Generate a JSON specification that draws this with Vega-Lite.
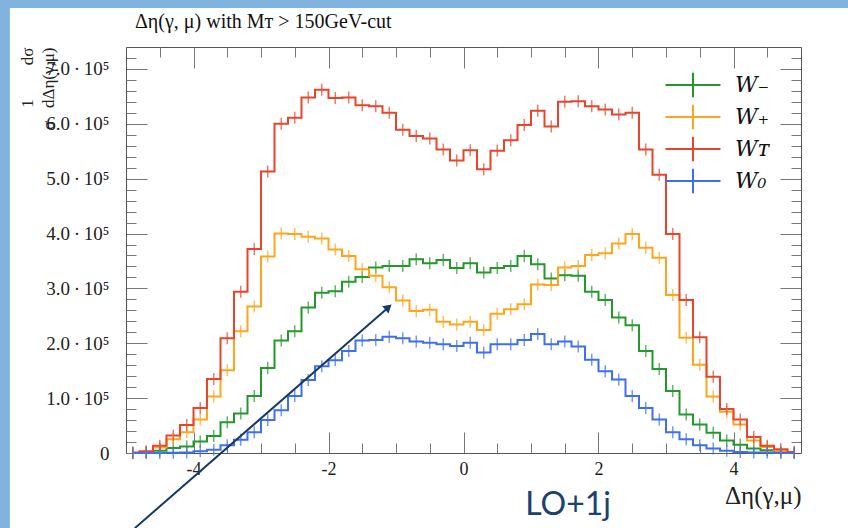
{
  "$schema": "https://vega.github.io/schema/vega-lite/v6.json",
  "width": 675,
  "height": 406,
  "autosize": {"type": "none"},
  "padding": {"left": 126, "top": 47, "right": 47, "bottom": 75},
  "background": "white",
  "title": {"text": "Δη(γ, μ) with Mᴛ > 150GeV-cut", "anchor": "start", "frame": "group", "font": "Liberation Serif", "fontSize": 20, "fontWeight": "normal", "color": "#111111", "offset": -32, "dx": 9},
  "datasets": {
    "strip": [{"x1": -7.5, "x2": -6.72, "y1": -200000, "y2": 825665}, {"x1": -7.5, "x2": 7.5, "y1": 811000, "y2": 825665}],
    "arrow": [{"x1": -4.87, "y1": -137000, "x2": -1.127, "y2": 264000}],
    "note": [{"x": 1.55, "y": -113000, "label": "LO+1j"}],
    "h": [
      {"x":-4.9,"s":"W₋","y":0},{"x":-4.7,"s":"W₋","y":1000},{"x":-4.5,"s":"W₋","y":4000},{"x":-4.3,"s":"W₋","y":9000},{"x":-4.1,"s":"W₋","y":12000},
      {"x":-3.9,"s":"W₋","y":21000},{"x":-3.7,"s":"W₋","y":31000},{"x":-3.5,"s":"W₋","y":56000},{"x":-3.3,"s":"W₋","y":72000},{"x":-3.1,"s":"W₋","y":104000},
      {"x":-2.9,"s":"W₋","y":155000},{"x":-2.7,"s":"W₋","y":205000},{"x":-2.5,"s":"W₋","y":222000},{"x":-2.3,"s":"W₋","y":265000},{"x":-2.1,"s":"W₋","y":292000},
      {"x":-1.9,"s":"W₋","y":295000},{"x":-1.7,"s":"W₋","y":312000},{"x":-1.5,"s":"W₋","y":321000},{"x":-1.3,"s":"W₋","y":338000},{"x":-1.1,"s":"W₋","y":341000},
      {"x":-0.9,"s":"W₋","y":341000},{"x":-0.7,"s":"W₋","y":353000},{"x":-0.5,"s":"W₋","y":346000},{"x":-0.3,"s":"W₋","y":352000},{"x":-0.1,"s":"W₋","y":337000},
      {"x":0.1,"s":"W₋","y":346000},{"x":0.3,"s":"W₋","y":329000},{"x":0.5,"s":"W₋","y":337000},{"x":0.7,"s":"W₋","y":341000},{"x":0.9,"s":"W₋","y":359000},
      {"x":1.1,"s":"W₋","y":344000},{"x":1.3,"s":"W₋","y":318000},{"x":1.5,"s":"W₋","y":324000},{"x":1.7,"s":"W₋","y":323000},{"x":1.9,"s":"W₋","y":294000},
      {"x":2.1,"s":"W₋","y":279000},{"x":2.3,"s":"W₋","y":247000},{"x":2.5,"s":"W₋","y":233000},{"x":2.7,"s":"W₋","y":186000},{"x":2.9,"s":"W₋","y":153000},
      {"x":3.1,"s":"W₋","y":113000},{"x":3.3,"s":"W₋","y":70000},{"x":3.5,"s":"W₋","y":52000},{"x":3.7,"s":"W₋","y":37000},{"x":3.9,"s":"W₋","y":23000},
      {"x":4.1,"s":"W₋","y":15000},{"x":4.3,"s":"W₋","y":8000},{"x":4.5,"s":"W₋","y":5000},{"x":4.7,"s":"W₋","y":2000},{"x":4.9,"s":"W₋","y":1000},

      {"x":-4.9,"s":"W₊","y":0},{"x":-4.7,"s":"W₊","y":2000},{"x":-4.5,"s":"W₊","y":10000},{"x":-4.3,"s":"W₊","y":25000},{"x":-4.1,"s":"W₊","y":38000},
      {"x":-3.9,"s":"W₊","y":61000},{"x":-3.7,"s":"W₊","y":103000},{"x":-3.5,"s":"W₊","y":151000},{"x":-3.3,"s":"W₊","y":222000},{"x":-3.1,"s":"W₊","y":267000},
      {"x":-2.9,"s":"W₊","y":358000},{"x":-2.7,"s":"W₊","y":400000},{"x":-2.5,"s":"W₊","y":399000},{"x":-2.3,"s":"W₊","y":394000},{"x":-2.1,"s":"W₊","y":391000},
      {"x":-1.9,"s":"W₊","y":371000},{"x":-1.7,"s":"W₊","y":359000},{"x":-1.5,"s":"W₊","y":335000},{"x":-1.3,"s":"W₊","y":323000},{"x":-1.1,"s":"W₊","y":302000},
      {"x":-0.9,"s":"W₊","y":278000},{"x":-0.7,"s":"W₊","y":259000},{"x":-0.5,"s":"W₊","y":261000},{"x":-0.3,"s":"W₊","y":239000},{"x":-0.1,"s":"W₊","y":234000},
      {"x":0.1,"s":"W₊","y":239000},{"x":0.3,"s":"W₊","y":224000},{"x":0.5,"s":"W₊","y":254000},{"x":0.7,"s":"W₊","y":262000},{"x":0.9,"s":"W₊","y":271000},
      {"x":1.1,"s":"W₊","y":307000},{"x":1.3,"s":"W₊","y":306000},{"x":1.5,"s":"W₊","y":338000},{"x":1.7,"s":"W₊","y":341000},{"x":1.9,"s":"W₊","y":361000},
      {"x":2.1,"s":"W₊","y":364000},{"x":2.3,"s":"W₊","y":382000},{"x":2.5,"s":"W₊","y":399000},{"x":2.7,"s":"W₊","y":374000},{"x":2.9,"s":"W₊","y":356000},
      {"x":3.1,"s":"W₊","y":288000},{"x":3.3,"s":"W₊","y":210000},{"x":3.5,"s":"W₊","y":161000},{"x":3.7,"s":"W₊","y":103000},{"x":3.9,"s":"W₊","y":75000},
      {"x":4.1,"s":"W₊","y":52000},{"x":4.3,"s":"W₊","y":23000},{"x":4.5,"s":"W₊","y":11000},{"x":4.7,"s":"W₊","y":4000},{"x":4.9,"s":"W₊","y":1000},

      {"x":-4.9,"s":"Wᴛ","y":1000},{"x":-4.7,"s":"Wᴛ","y":3000},{"x":-4.5,"s":"Wᴛ","y":13000},{"x":-4.3,"s":"Wᴛ","y":32000},{"x":-4.1,"s":"Wᴛ","y":51000},
      {"x":-3.9,"s":"Wᴛ","y":82000},{"x":-3.7,"s":"Wᴛ","y":135000},{"x":-3.5,"s":"Wᴛ","y":209000},{"x":-3.3,"s":"Wᴛ","y":294000},{"x":-3.1,"s":"Wᴛ","y":372000},
      {"x":-2.9,"s":"Wᴛ","y":513000},{"x":-2.7,"s":"Wᴛ","y":600000},{"x":-2.5,"s":"Wᴛ","y":611000},{"x":-2.3,"s":"Wᴛ","y":648000},{"x":-2.1,"s":"Wᴛ","y":662000},
      {"x":-1.9,"s":"Wᴛ","y":647000},{"x":-1.7,"s":"Wᴛ","y":648000},{"x":-1.5,"s":"Wᴛ","y":634000},{"x":-1.3,"s":"Wᴛ","y":632000},{"x":-1.1,"s":"Wᴛ","y":620000},
      {"x":-0.9,"s":"Wᴛ","y":589000},{"x":-0.7,"s":"Wᴛ","y":578000},{"x":-0.5,"s":"Wᴛ","y":573000},{"x":-0.3,"s":"Wᴛ","y":553000},{"x":-0.1,"s":"Wᴛ","y":533000},
      {"x":0.1,"s":"Wᴛ","y":552000},{"x":0.3,"s":"Wᴛ","y":517000},{"x":0.5,"s":"Wᴛ","y":551000},{"x":0.7,"s":"Wᴛ","y":570000},{"x":0.9,"s":"Wᴛ","y":598000},
      {"x":1.1,"s":"Wᴛ","y":624000},{"x":1.3,"s":"Wᴛ","y":595000},{"x":1.5,"s":"Wᴛ","y":640000},{"x":1.7,"s":"Wᴛ","y":641000},{"x":1.9,"s":"Wᴛ","y":632000},
      {"x":2.1,"s":"Wᴛ","y":626000},{"x":2.3,"s":"Wᴛ","y":617000},{"x":2.5,"s":"Wᴛ","y":620000},{"x":2.7,"s":"Wᴛ","y":553000},{"x":2.9,"s":"Wᴛ","y":507000},
      {"x":3.1,"s":"Wᴛ","y":399000},{"x":3.3,"s":"Wᴛ","y":279000},{"x":3.5,"s":"Wᴛ","y":211000},{"x":3.7,"s":"Wᴛ","y":139000},{"x":3.9,"s":"Wᴛ","y":80000},
      {"x":4.1,"s":"Wᴛ","y":61000},{"x":4.3,"s":"Wᴛ","y":29000},{"x":4.5,"s":"Wᴛ","y":13000},{"x":4.7,"s":"Wᴛ","y":7000},{"x":4.9,"s":"Wᴛ","y":2000},

      {"x":-4.9,"s":"W₀","y":0},{"x":-4.7,"s":"W₀","y":0},{"x":-4.5,"s":"W₀","y":0},{"x":-4.3,"s":"W₀","y":500},{"x":-4.1,"s":"W₀","y":1000},
      {"x":-3.9,"s":"W₀","y":3000},{"x":-3.7,"s":"W₀","y":6000},{"x":-3.5,"s":"W₀","y":14000},{"x":-3.3,"s":"W₀","y":24000},{"x":-3.1,"s":"W₀","y":38000},
      {"x":-2.9,"s":"W₀","y":60000},{"x":-2.7,"s":"W₀","y":78000},{"x":-2.5,"s":"W₀","y":104000},{"x":-2.3,"s":"W₀","y":133000},{"x":-2.1,"s":"W₀","y":158000},
      {"x":-1.9,"s":"W₀","y":169000},{"x":-1.7,"s":"W₀","y":186000},{"x":-1.5,"s":"W₀","y":205000},{"x":-1.3,"s":"W₀","y":206000},{"x":-1.1,"s":"W₀","y":212000},
      {"x":-0.9,"s":"W₀","y":209000},{"x":-0.7,"s":"W₀","y":203000},{"x":-0.5,"s":"W₀","y":201000},{"x":-0.3,"s":"W₀","y":198000},{"x":-0.1,"s":"W₀","y":195000},
      {"x":0.1,"s":"W₀","y":201000},{"x":0.3,"s":"W₀","y":183000},{"x":0.5,"s":"W₀","y":198000},{"x":0.7,"s":"W₀","y":198000},{"x":0.9,"s":"W₀","y":206000},
      {"x":1.1,"s":"W₀","y":217000},{"x":1.3,"s":"W₀","y":198000},{"x":1.5,"s":"W₀","y":203000},{"x":1.7,"s":"W₀","y":194000},{"x":1.9,"s":"W₀","y":170000},
      {"x":2.1,"s":"W₀","y":149000},{"x":2.3,"s":"W₀","y":134000},{"x":2.5,"s":"W₀","y":104000},{"x":2.7,"s":"W₀","y":82000},{"x":2.9,"s":"W₀","y":61000},
      {"x":3.1,"s":"W₀","y":38000},{"x":3.3,"s":"W₀","y":25000},{"x":3.5,"s":"W₀","y":14000},{"x":3.7,"s":"W₀","y":8000},{"x":3.9,"s":"W₀","y":4000},
      {"x":4.1,"s":"W₀","y":2000},{"x":4.3,"s":"W₀","y":1000},{"x":4.5,"s":"W₀","y":1000},{"x":4.7,"s":"W₀","y":0},{"x":4.9,"s":"W₀","y":0}
    ]
  },
  "resolve": {"axis": {"x": "independent", "y": "independent"}},
  "layer": [
    {
      "data": {"name": "strip"},
      "mark": {"type": "rect", "color": "#80b4de", "clip": false},
      "encoding": {
        "x": {"field": "x1", "type": "quantitative", "scale": {"domain": [-5, 5], "nice": false, "zero": false}, "axis": null},
        "x2": {"field": "x2"},
        "y": {"field": "y1", "type": "quantitative", "scale": {"domain": [0, 740000], "nice": false, "zero": false}, "axis": null},
        "y2": {"field": "y2"}
      }
    },
    {
      "data": {"name": "h"},
      "mark": {"type": "line", "interpolate": "step", "strokeWidth": 2},
      "encoding": {
        "x": {"field": "x", "type": "quantitative", "scale": {"domain": [-5, 5], "nice": false, "zero": false},
          "axis": {"orient": "bottom", "values": [-4, -2, 0, 2, 4], "tickSize": -21, "labelPadding": 28, "labelFontSize": 18,
            "labelExpr": "datum.value < 0 ? '-' + abs(datum.value) : '' + datum.value",
            "title": "Δη(γ,μ)", "titleAnchor": "end", "titleFontSize": 25, "titlePadding": 5}},
        "y": {"field": "y", "type": "quantitative", "scale": {"domain": [0, 740000], "nice": false, "zero": false},
          "axis": {"orient": "left", "values": [0, 100000, 200000, 300000, 400000, 500000, 600000, 700000], "tickSize": -21, "labelPadding": 38, "labelFontSize": 19,
            "labelExpr": "datum.value == 0 ? '0' : format(datum.value / 100000, '.1f') + '\u2009·\u200910⁵'",
            "title": ["1\u00a0\u00a0\u00a0\u00a0\u00a0\u00a0\u00a0\u00a0dσ\u00a0\u00a0\u00a0\u00a0\u00a0", "σ\u00a0\u00a0\u00a0dΔη(γ,μ)"], "titleAnchor": "end", "titleFontSize": 17, "titleLineHeight": 21, "titlePadding": -12}},
        "color": {"field": "s", "type": "nominal",
          "scale": {"domain": ["W₋", "W₊", "Wᴛ", "W₀"], "range": ["#23992b", "#ffa51d", "#e8442c", "#3e6ff0"]},
          "legend": {"title": null, "orient": "none", "legendX": 552, "legendY": 23, "symbolType": "M-2,0H2M0,-0.9V0.9", "symbolSize": 756, "symbolStrokeWidth": 2,
            "labelFont": "DejaVu Serif", "labelFontSize": 22, "labelFontStyle": "italic", "labelColor": "#111111", "labelOffset": 27, "rowPadding": -3}}
      }
    },
    {
      "data": {"name": "h"},
      "mark": {"type": "tick", "orient": "vertical", "size": 12, "thickness": 1.5},
      "encoding": {
        "x": {"field": "x", "type": "quantitative", "scale": {"domain": [-5, 5], "nice": false, "zero": false},
          "axis": {"orient": "bottom", "values": [-4.5, -3.5, -3, -2.5, -1.5, -1, -0.5, 0.5, 1, 1.5, 2.5, 3, 3.5, 4.5], "tickSize": -10, "labels": false, "domain": false, "title": null}},
        "y": {"field": "y", "type": "quantitative", "scale": {"domain": [0, 740000], "nice": false, "zero": false},
          "axis": {"orient": "left", "values": [20000, 40000, 60000, 80000, 120000, 140000, 160000, 180000, 220000, 240000, 260000, 280000, 320000, 340000, 360000, 380000, 420000, 440000, 460000, 480000, 520000, 540000, 560000, 580000, 620000, 640000, 660000, 680000, 720000], "tickSize": -10, "labels": false, "domain": false, "title": null}},
        "color": {"field": "s", "type": "nominal", "legend": null}
      }
    },
    {
      "data": {"name": "arrow"},
      "mark": {"type": "rule", "color": "#163a66", "strokeWidth": 2, "clip": false},
      "encoding": {
        "x": {"field": "x1", "type": "quantitative", "scale": {"domain": [-5, 5], "nice": false, "zero": false},
          "axis": {"orient": "top", "values": [-4, -2, 0, 2, 4], "tickSize": -21, "labels": false, "title": null}},
        "x2": {"field": "x2"},
        "y": {"field": "y1", "type": "quantitative", "scale": {"domain": [0, 740000], "nice": false, "zero": false},
          "axis": {"orient": "right", "values": [100000, 200000, 300000, 400000, 500000, 600000, 700000], "tickSize": -21, "labels": false, "title": null}},
        "y2": {"field": "y2"}
      }
    },
    {
      "data": {"name": "arrow"},
      "mark": {"type": "point", "shape": "triangle", "filled": true, "color": "#163a66", "size": 90, "angle": 49, "opacity": 1, "clip": false},
      "encoding": {
        "x": {"field": "x2", "type": "quantitative", "scale": {"domain": [-5, 5], "nice": false, "zero": false},
          "axis": {"orient": "top", "values": [-4.5, -3.5, -3, -2.5, -1.5, -1, -0.5, 0.5, 1, 1.5, 2.5, 3, 3.5, 4.5], "tickSize": -10, "labels": false, "domain": false, "title": null}},
        "y": {"field": "y2", "type": "quantitative", "scale": {"domain": [0, 740000], "nice": false, "zero": false},
          "axis": {"orient": "right", "values": [20000, 40000, 60000, 80000, 120000, 140000, 160000, 180000, 220000, 240000, 260000, 280000, 320000, 340000, 360000, 380000, 420000, 440000, 460000, 480000, 520000, 540000, 560000, 580000, 620000, 640000, 660000, 680000, 720000], "tickSize": -10, "labels": false, "domain": false, "title": null}}
      }
    },
    {
      "data": {"name": "note"},
      "mark": {"type": "text", "font": "Lato", "fontSize": 32, "color": "#1c4170", "align": "center", "baseline": "alphabetic", "clip": false},
      "encoding": {
        "x": {"field": "x", "type": "quantitative", "scale": {"domain": [-5, 5], "nice": false, "zero": false}, "axis": null},
        "y": {"field": "y", "type": "quantitative", "scale": {"domain": [0, 740000], "nice": false, "zero": false}, "axis": null},
        "text": {"field": "label"}
      }
    }
  ],
  "config": {
    "view": {"stroke": null},
    "axis": {"grid": false, "zindex": 1, "domainColor": "#555555", "domainWidth": 1, "tickColor": "#777777", "tickWidth": 1,
      "labelFont": "Liberation Serif", "labelFontSize": 18, "labelColor": "#222222",
      "titleFont": "Liberation Serif", "titleFontWeight": "normal", "titleColor": "#222222"}
  }
}
